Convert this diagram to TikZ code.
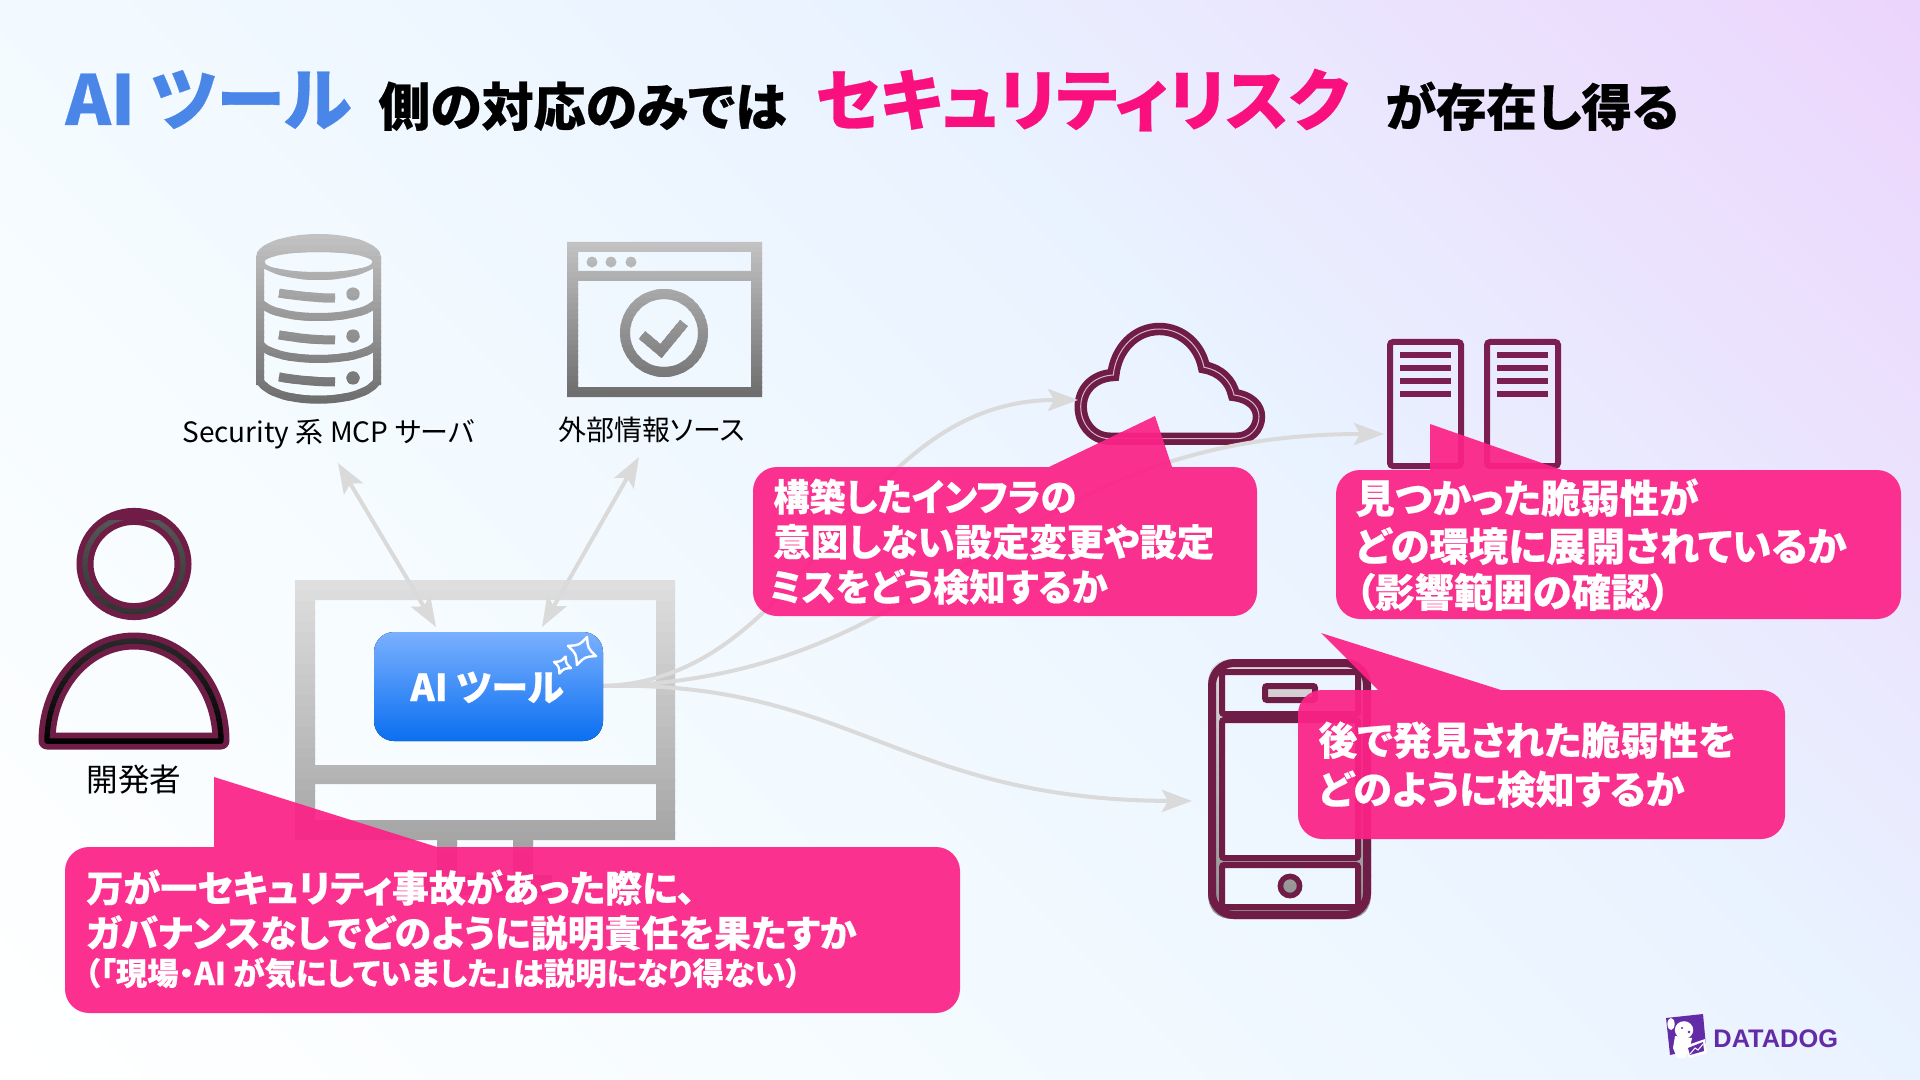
\documentclass[tikz,border=0pt]{standalone}
\usepackage{fontspec}
\usetikzlibrary{arrows.meta,shadings}
\setmainfont{Noto Sans CJK JP}[RawFeature=+palt,BoldFeatures={FakeBold=0.4}]
\newfontfamily\ddfont{Liberation Sans}
\definecolor{maroon}{HTML}{6F1D46}
\definecolor{maroonb}{HTML}{7B1F52}
\definecolor{hot}{HTML}{FC2287}
\definecolor{linkgray}{HTML}{DADADA}
\definecolor{titleblue}{HTML}{4A86E8}
\definecolor{titlepink}{HTML}{F90F7E}
\definecolor{ddpurple}{HTML}{632CA6}
\definecolor{bga}{HTML}{FFFFFF}
\definecolor{bgb}{HTML}{F4FBFF}
\definecolor{bgc}{HTML}{E9F2FF}
\definecolor{bge}{HTML}{ECD5FC}
\definecolor{aitop}{HTML}{7AB0FF}
\definecolor{aibot}{HTML}{0A6FF0}
\definecolor{icontop}{HTML}{C2C2C2}
\definecolor{iconbot}{HTML}{6E6E6E}
\definecolor{montop}{HTML}{DEDEDE}
\definecolor{monbot}{HTML}{9A9A9A}
\definecolor{phonetop}{HTML}{DCD8DC}
\definecolor{phonebot}{HTML}{909090}
\definecolor{midtop}{HTML}{555555}
\definecolor{midbot}{HTML}{000000}
\definecolor{cloudline}{HTML}{D8B8C8}
\pgfdeclareverticalshading{bgdiag}{100bp}{color(0bp)=(bga); color(15bp)=(bga); color(38bp)=(bgb); color(60.5bp)=(bgc); color(85bp)=(bge); color(100bp)=(bge)}
\newcommand{\squeeze}[2]{\scalebox{#1}[1]{#2}}
\newcommand{\gradbands}[5]{%
  \foreach \bi in {0,...,29}{%
    \pgfmathsetmacro{\pc}{100-\bi*100/29}%
    \pgfmathsetmacro{\ya}{#1+(#2-#1)*\bi/30}%
    \pgfmathsetmacro{\yb}{#1+(#2-#1)*(\bi+1)/30+1.5}%
    \colorlet{bandc}{#3!\pc!#4}%
    \begin{scope}
      \clip (-10,\ya) rectangle (2000,\yb);
      #5
    \end{scope}
  }%
}
\newcommand{\sparkle}[3]{%
  \begin{scope}[shift={(#1,#2)},rotate=-20]
    \draw[white,line width=1.2pt,line join=round]
      (0,-#3) .. controls (0.3*#3,-0.3*#3) .. (#3,0)
      .. controls (0.3*#3,0.3*#3) .. (0,#3)
      .. controls (-0.3*#3,0.3*#3) .. (-#3,0)
      .. controls (-0.3*#3,-0.3*#3) .. cycle;
  \end{scope}}
\newcommand{\cloudpath}{(1110,438.7) .. controls (1093,438.7) and (1080.7,424) .. (1080.7,406.7) .. controls (1080.7,390) and (1093,376) .. (1113.3,375)
  .. controls (1116,349) and (1135,329) .. (1159.3,329) .. controls (1182,329) and (1200,346) .. (1204,367.3)
  .. controls (1220,370) and (1231,381) .. (1234,395) .. controls (1250,397) and (1259,406) .. (1259,416.7) .. controls (1259,429) and (1249,438.7) .. (1236.7,438.7) -- cycle}
\tikzset{
  x=0.5pt,y=-0.5pt,
  link/.style={draw=linkgray,line width=2pt,-{Stealth[length=15pt,width=11pt,inset=3pt]}},
  dlink/.style={draw=linkgray,line width=2pt,{Stealth[length=15pt,width=11pt,inset=3pt]}-{Stealth[length=15pt,width=11pt,inset=3pt]}},
  ballooon/.style={fill=hot,fill opacity=.93},
  lab/.style={inner sep=0pt,anchor=base west,text=black},
  wtxt/.style={inner sep=0pt,anchor=base west,text=white,font=\fontsize{18.7}{21}\selectfont\bfseries},
  ttl/.style={inner sep=0pt,anchor=base west,font=\bfseries},
}
\begin{document}
\begin{tikzpicture}
\useasboundingbox (0,0) rectangle (1920,1080);
\shade[shading=bgdiag,shading angle=-45] (0,0) rectangle (1920,1080);

% title
\node[ttl,text=titleblue,font=\fontsize{34.5}{38}\selectfont\bfseries] (t1) at (65,125) {AI ツール};
\node[ttl,text=black,font=\fontsize{26}{30}\selectfont\bfseries] (t2) at (378,126) {側の対応のみでは};
\node[ttl,text=titlepink,font=\fontsize{33.5}{36}\selectfont\bfseries] (t3) at (815,125) {セキュリティリスク};
\node[ttl,text=black,font=\fontsize{25.3}{30}\selectfont\bfseries] (t4) at (1385,126) {が存在し得る};

% database icon
\gradbands{234}{405}{icontop}{iconbot}{%
  \fill[bandc,even odd rule] (318.5,257) ellipse [x radius=31.25pt,y radius=11.5pt] (318.5,262) ellipse [x radius=27pt,y radius=5pt];
  \fill[bandc] (256,257) rectangle (264,385) (373,257) rectangle (381,385);
  \draw[bandc,line width=4pt] (260,302) .. controls (275,322) and (362,322) .. (377,302);
  \draw[bandc,line width=4pt] (260,344) .. controls (275,364) and (362,364) .. (377,344);
  \draw[bandc,line width=4pt] (260,381) .. controls (275,406) and (362,406) .. (377,381);
  \foreach \dy in {0,42,84}{
    \draw[bandc,line width=4.5pt] (279,293+\dy) .. controls (298,296+\dy) and (315,298+\dy) .. (335,298+\dy);
    \fill[bandc] (353,294+\dy) circle (3.3pt);
  }
}
\coordinate (db) at (338,463);
\node[lab,font=\fontsize{14}{16}\selectfont] (dbl) at (182,442) {Security 系 MCP サーバ};

% browser icon
\gradbands{242}{397}{icontop}{iconbot}{%
  \fill[bandc,even odd rule] (567,242) rectangle (762,397) (578,252) rectangle (751,271) (578,281) rectangle (751,387);
  \foreach \dx in {592,611,631}{\fill[bandc] (\dx,262) circle (2.7pt);}
  \draw[bandc,line width=5pt] (664,333) circle (19.5pt);
  \draw[bandc,line width=5pt] (642,335) -- (661,351) -- (684,323);
}
\coordinate (web) at (639,457);
\node[lab,font=\fontsize{14}{16}\selectfont] (webl) at (558,440) {外部情報ソース};

% person icon
\draw[maroon,line width=8.5pt] (134,564) ellipse [x radius=24.5pt,y radius=23.8pt];
\draw[maroon,line width=8.5pt,line join=round] (47,741) .. controls (47,686) and (86,641) .. (134,641) .. controls (182,641) and (221,686) .. (221,741) -- cycle;
\gradbands{520}{750}{midtop}{midbot}{%
  \draw[bandc,line width=2.6pt] (134,564) ellipse [x radius=24.5pt,y radius=23.8pt];
  \draw[bandc,line width=2.6pt,line join=round] (47,741) .. controls (47,686) and (86,641) .. (134,641) .. controls (182,641) and (221,686) .. (221,741) -- cycle;
}
\node[lab,font=\fontsize{15.8}{18}\selectfont] (devl) at (86,791) {開発者};

% monitor icon
\gradbands{580}{895}{montop}{monbot}{%
  \fill[bandc,even odd rule] (295,580) rectangle (675,840) (315,600) rectangle (656,765) (315,784) rectangle (656,820);
  \fill[bandc] (437,840) rectangle (457,895) (513,840) rectangle (533,895) (418,875) rectangle (552,895);
}

% cloud icon
\draw[maroon,line width=6.2pt,miter limit=3] \cloudpath;
\draw[cloudline,line width=.5pt] \cloudpath;
\coordinate (cloud) at (1078,400);

% servers icon
\foreach \sx in {1387,1484}{
  \draw[maroonb,line width=3pt,rounded corners=1.5pt] (\sx+3,342) rectangle (\sx+74,466);
  \foreach \sy in {355,368,381,394}{
    \fill[maroonb] (\sx+13,\sy-3) rectangle (\sx+64,\sy+3);
  }
}
\coordinate (server) at (1384,434);

% phone icon
\gradbands{659}{919}{phonetop}{phonebot}{%
  \fill[bandc,even odd rule] (1208,684) .. controls (1208,668) and (1217,659) .. (1233,659) -- (1346,659) .. controls (1362,659) and (1371,668) .. (1371,684) -- (1371,894) .. controls (1371,910) and (1362,919) .. (1346,919) -- (1233,919) .. controls (1217,919) and (1208,910) .. (1208,894) -- cycle
  (1221,672) rectangle (1359,714) (1221,720) rectangle (1359,858) (1221,865) rectangle (1359,907);
  \fill[bandc] (1265,686) rectangle (1315,700);
  \fill[bandc] (1290,886) circle (5pt);
}
\draw[maroon,line width=4pt,rounded corners=11pt] (1212,663) rectangle (1367,915);
\foreach \ya/\yb in {672/714,720/858,865/907}{
  \draw[maroon,line width=3pt,rounded corners=1pt] (1222,\ya) rectangle (1358,\yb);
}
\draw[maroon,line width=3pt,rounded corners=1pt] (1265,686) rectangle (1315,700);
\draw[maroon,line width=2.8pt] (1290,886) circle (4.8pt);
\coordinate (phone) at (1192,801);

% connectors
\coordinate (aiR) at (603,686);
\coordinate (aiTL) at (436,627);
\coordinate (aiTR) at (542,627);
\draw[dlink] (aiTL) -- (db);
\draw[dlink] (aiTR) -- (web);
\draw[link] (aiR) .. controls (810,680) and (850,400) .. (cloud);
\draw[link] (aiR) .. controls (950,680) and (1000,434) .. (server);
\draw[link] (aiR) .. controls (850,680) and (900,800) .. (phone);

% AI tool box
\fill[rounded corners=10pt,top color=aitop,bottom color=aibot] (374,632) rectangle (603,741);
\node[ttl,text=white,font=\fontsize{18.5}{21}\selectfont\bfseries] (ai) at (410,701) {AI ツール};
\sparkle{582}{651}{15}
\sparkle{562.5}{665}{9}

% balloons
\fill[ballooon] (214,847) -- (214,777) -- (437,847) [rounded corners=12pt] -- (960,847) -- (960,1013) -- (65,1013) -- (65,847) [sharp corners] -- cycle;
\node[wtxt,font=\fontsize{18.5}{21}\selectfont\bfseries] (b1a) at (86,902) {万が一セキュリティ事故があった際に、};
\node[wtxt,font=\fontsize{18.5}{21}\selectfont\bfseries] (b1b) at (86,947) {ガバナンスなしでどのように説明責任を果たすか};
\node[wtxt,font=\fontsize{15.7}{18}\selectfont\bfseries] (b1c) at (84,985) {（「現場・AI が気にしていました」は説明になり得ない）};

\fill[ballooon] (1049,467) -- (1155,416) -- (1172,467) [rounded corners=12pt] -- (1257,467) -- (1257,616) -- (753,616) -- (753,467) [sharp corners] -- cycle;
\node[wtxt] (b2a) at (773,511) {\squeeze{.965}{構築したインフラの}};
\node[wtxt] (b2b) at (773,556) {意図しない設定変更や設定};
\node[wtxt] (b2c) at (769,601) {\squeeze{.97}{ミスをどう検知するか}};

\fill[ballooon] (1430,470) -- (1430,424) -- (1562,470) [rounded corners=12pt] -- (1901,470) -- (1901,619) -- (1336,619) -- (1336,470) [sharp corners] -- cycle;
\node[wtxt,font=\fontsize{19.7}{22}\selectfont\bfseries] (b3a) at (1355,513) {見つかった脆弱性が};
\node[wtxt,font=\fontsize{19.7}{22}\selectfont\bfseries] (b3b) at (1355,561) {どの環境に展開されているか};
\node[wtxt,font=\fontsize{19.7}{22}\selectfont\bfseries] (b3c) at (1355,607) {（影響範囲の確認）};

\fill[ballooon] (1378,690) -- (1321,633) -- (1501,690) [rounded corners=12pt] -- (1785,690) -- (1785,839) -- (1298,839) -- (1298,690) [sharp corners] -- cycle;
\node[wtxt,font=\fontsize{19.5}{22}\selectfont\bfseries] (b4a) at (1318,755) {後で発見された脆弱性を};
\node[wtxt,font=\fontsize{19.5}{22}\selectfont\bfseries] (b4b) at (1318,804) {どのように検知するか};

% logo
\fill[ddpurple] (1666,1018) -- (1703,1014) -- (1706,1047) -- (1670,1055) -- cycle;
\fill[white] (1684,1030) ellipse [x radius=4.6pt,y radius=4.4pt];
\fill[white] (1671,1024) ellipse [x radius=1.8pt,y radius=3pt];
\fill[white] (1675,1036) -- (1692,1038) -- (1690,1047) -- (1685,1058) -- (1677,1058) -- (1673,1048) -- cycle;
\fill[ddpurple] (1682,1028) circle (.6pt) (1689,1032) circle (.7pt);
\fill[white] (1685,1046) -- (1705,1039) -- (1707,1053) -- (1689,1058) -- cycle;
\fill[ddpurple] (1688,1048) -- (1703,1042) -- (1704,1051) -- (1690,1055) -- cycle;
\draw[white,line width=.5pt] (1690,1054) -- (1695,1048) -- (1698,1050) -- (1703,1044);
\node[lab,text=ddpurple,font=\ddfont\fontsize{12.7}{14}\selectfont\bfseries] (ddt) at (1713,1047) {DATADOG};
\end{tikzpicture}
\end{document}
